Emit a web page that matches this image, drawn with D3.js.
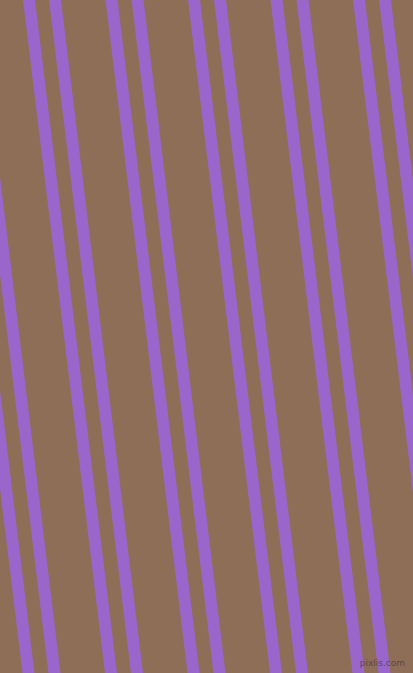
<!DOCTYPE html>
<html>
<head>
<meta charset="utf-8">
<script src="https://d3js.org/d3.v7.min.js"></script>
<style>
    body { margin: 0; overflow: hidden; background: #8f6e57; }
</style>
</head>
<body>
<script>
    // stripe left edges, read at the top edge (y = 0) and the bottom edge (y = 673)
    var stripeTop = [-59.5, -33.5, 23, 49, 105.5, 131.5, 188, 214, 270.5, 296.5, 353, 379, 435.5, 461.5];
    var stripeBottom = [22.5, 48.5, 105, 131, 187.5, 213.5, 270, 296, 352.5, 378.5, 435, 461, 517.5, 543.5];
    var watermark = "pixlis.com";

    var width = 413;
    var height = 673;
    var bandW = 12;

    var svg = d3.select("body")
    .append("svg")
    .attr("width", width)
    .attr("height", height)
    .style("display", "block");

    var scaleX = d3.scaleLinear()
    .domain([0, width])
    .range([0, width]);

    var scaleY = d3.scaleLinear()
    .domain([0, 1])
    .range([0, height]);

    svg.append("rect")
    .attr("width", width)
    .attr("height", height)
    .attr("fill", "#8f6e57");

    var stripes = stripeTop.map(function(t, i){ return {top: t, bottom: stripeBottom[i]}; });

    var line = d3.line();

    svg.append("g")
    .selectAll("path")
    .data(stripes)
    .enter()
    .append("path")
    .attr("d", function(d){
        return line([
            [scaleX(d.top), scaleY(0)],
            [scaleX(d.top + bandW), scaleY(0)],
            [scaleX(d.bottom + bandW), scaleY(1)],
            [scaleX(d.bottom), scaleY(1)]
        ]) + "Z";
    })
    .attr("fill", "#9966cc");

    svg.append("text")
    .attr("x", 405)
    .attr("y", 666)
    .attr("text-anchor", "end")
    .text(watermark)
    .style("font-family", "DejaVu Sans")
    .style("font-size", "9px")
    .style("fill", "#4a3844")
    .style("opacity", 0.75);
</script>
</body>
</html>
